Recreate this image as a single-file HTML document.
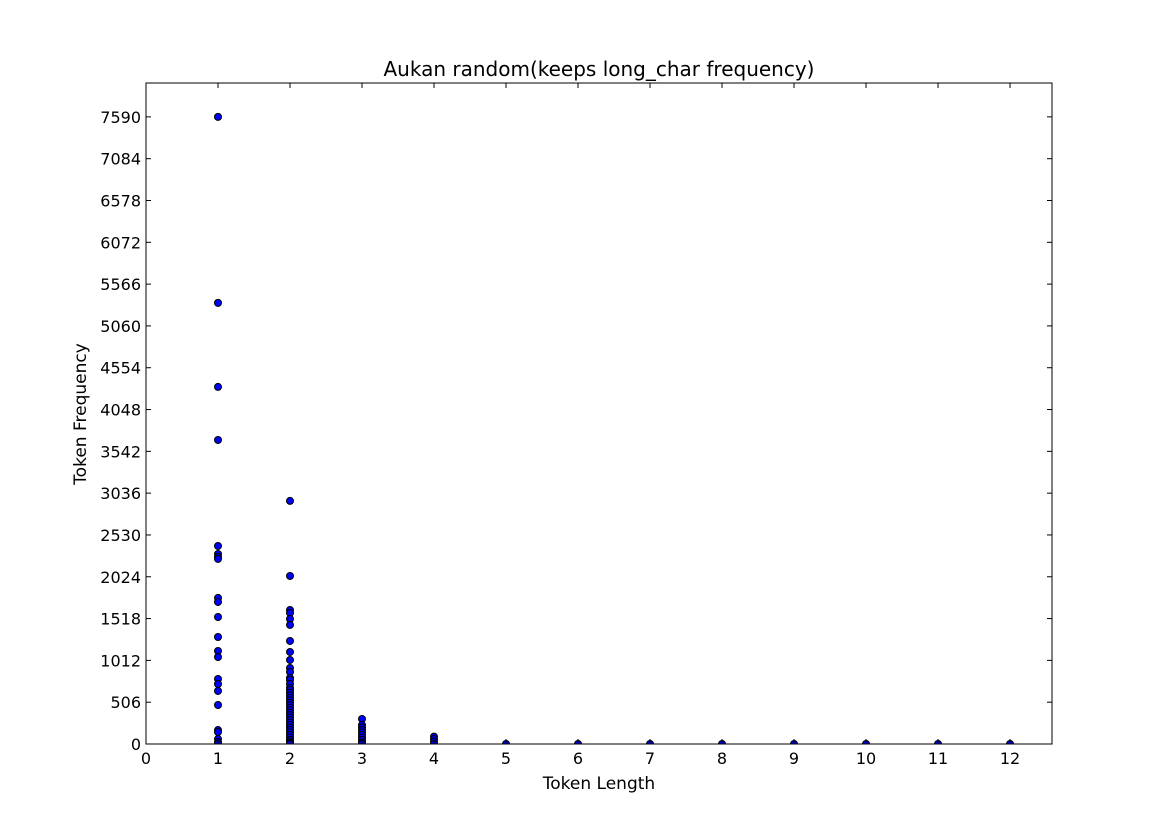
<!DOCTYPE html>
<html><head><meta charset="utf-8"><style>
body{margin:0;background:#fff;width:1169px;height:827px;overflow:hidden}
svg text{font-family:"DejaVu Sans","Liberation Sans",sans-serif;fill:#000}
</style></head><body>
<svg id="chart" width="1169" height="827">
<rect width="1169" height="827" fill="#fff"/>
<defs><clipPath id="clip"><rect x="146" y="83" width="906" height="661"/></clipPath></defs>
<g id="points" clip-path="url(#clip)"></g>
<rect x="146" y="83" width="906" height="661" fill="none" stroke="#000" stroke-width="1"/>
<g id="axes"></g>
<text x="599" y="76" font-size="20" text-anchor="middle">Aukan random(keeps long_char frequency)</text>
<text x="599" y="789" font-size="17" text-anchor="middle">Token Length</text>
<text x="86" y="414" font-size="17" text-anchor="middle" transform="rotate(-90 86 414)">Token Frequency</text>
</svg>
<script>
const xTicks=[0,1,2,3,4,5,6,7,8,9,10,11,12];
const yTicks=[0,506,1012,1518,2024,2530,3036,3542,4048,4554,5060,5566,6072,6578,7084,7590];
const len1=[7590,5339,4322,3680,2397,2300,2264,2240,1768,1719,1537,1295,1126,1053,787,726,642,472,169,145,60,24,0];
const len2=[2942,2034,1622,1586,1513,1441,1247,1114,1017,920,872,799,775,726,678,654,620,590,560,530,500,470,440,410,380,350,320,290,260,230,200,170,140,110,80,50,30,10,0];
const len3=[303,230,200,170,140,110,80,50,20,0];
const len4=[90,60,30,0];
const lenRest=[5,6,7,8,9,10,11,12];
const X0=146,X1=1052,XMAX=12.583,Y0=744,Y1=83,YMAX=8000;
const sx=v=>X0+v/XMAX*(X1-X0);
const sy=v=>Y0-v/YMAX*(Y0-Y1);
const NS="http://www.w3.org/2000/svg";
const axes=document.getElementById('axes'),pts=document.getElementById('points');
function mk(tag,attrs,parent){const e=document.createElementNS(NS,tag);for(const k in attrs)e.setAttribute(k,attrs[k]);parent.appendChild(e);return e;}
xTicks.forEach(t=>{const x=sx(t);
 const l=mk('line',{x1:x,x2:x,y1:Y0,y2:Y0-5,stroke:'#000'},axes);
 
 
 const l2=mk('line',{x1:x,x2:x,y1:Y1,y2:Y1+5,stroke:'#000'},axes);
 
 
 const tx=mk('text',{x:x,y:Y0+20,'font-size':16,'text-anchor':'middle'},axes);tx.textContent=t;
 
 
});
yTicks.forEach(t=>{const y=sy(t);
 const l=mk('line',{x1:X0,x2:X0+5,y1:y,y2:y,stroke:'#000'},axes);
 
 
 const l2=mk('line',{x1:X1,x2:X1-5,y1:y,y2:y,stroke:'#000'},axes);
 
 
 const tx=mk('text',{x:X0-5,y:y+6,'font-size':16,'text-anchor':'end'},axes);tx.textContent=t;
 
 
});
function dot(xv,yv){const c=mk('circle',{cx:sx(xv),cy:sy(yv),r:3.5,fill:'#0000ff',stroke:'#000','stroke-width':1},pts);
 
 }
len1.forEach(v=>dot(1,v));
len2.forEach(v=>dot(2,v));
len3.forEach(v=>dot(3,v));
len4.forEach(v=>dot(4,v));
lenRest.forEach(x=>dot(x,0));
</script>
</body></html>
